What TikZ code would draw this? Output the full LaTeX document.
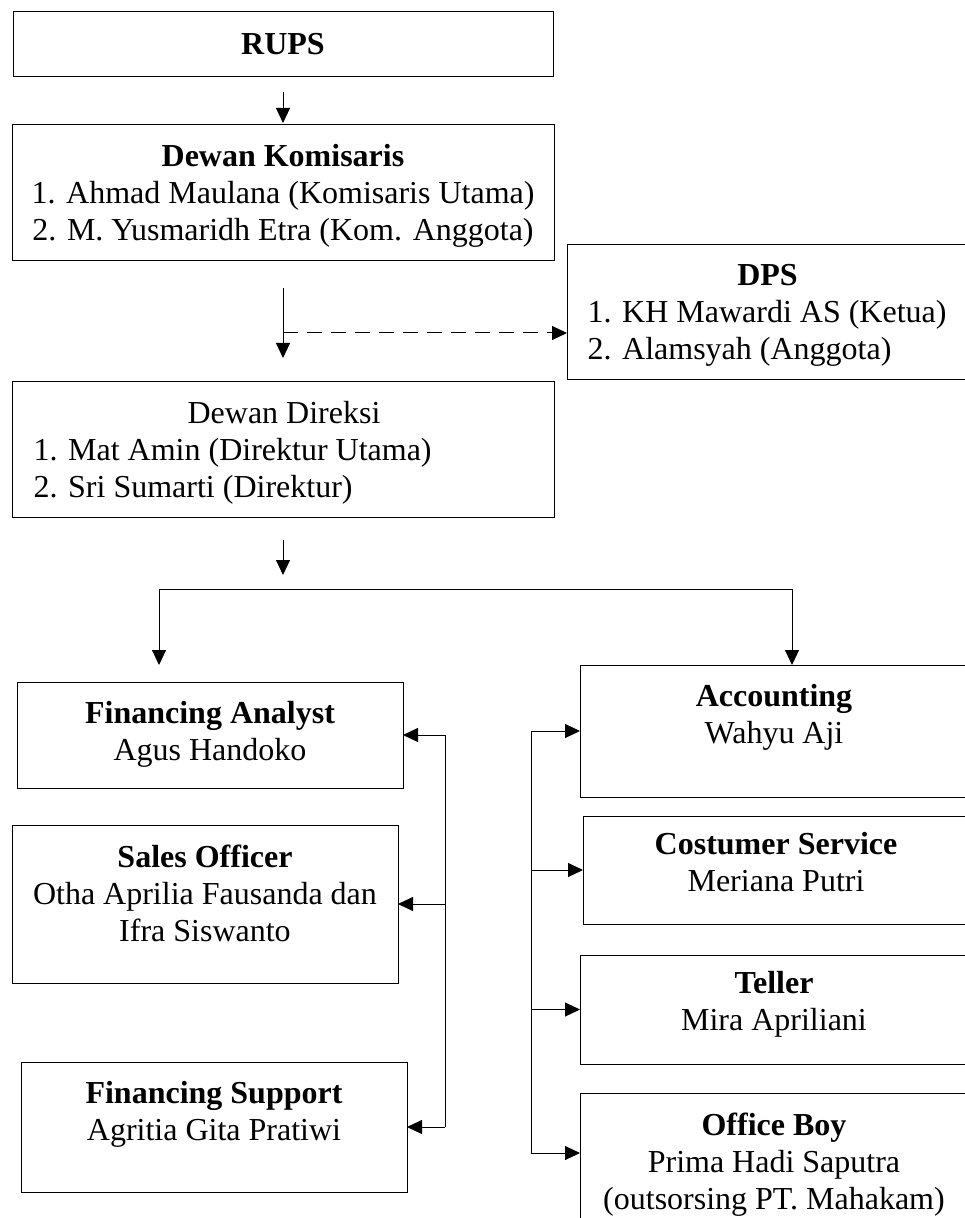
\documentclass[tikz,border=0pt]{standalone}
\usepackage{fontspec}
\setmainfont{Liberation Serif}
\usetikzlibrary{positioning, arrows.meta}

\begin{document}
\begin{tikzpicture}[x=0.5pt, y=-0.5pt, line width=0.5pt,
    unit/.style={draw, anchor=north west, inner sep=0pt, outer sep=0pt},
    lbl/.style={inner sep=0pt, align=center, font=\fontsize{16}{18.5}\selectfont},
    arr/.style={-{Triangle[length=7.5pt, width=7pt]}}]
  \useasboundingbox (0,0) rectangle (964,1218);

  % boxes
  \node (rups) [unit, minimum width=270pt, minimum height=32.5pt] at (13,12) {};
  \node (dk)  [unit, minimum width=271pt, minimum height=68pt]   at (12,125) {};
  \node (dps) [unit, minimum width=200pt, minimum height=67.5pt] at (567,245) {};
  \node (dd)  [unit, minimum width=271pt, minimum height=67.5pt] at (12,382) {};
  \node (fa)  [unit, minimum width=193pt, minimum height=53pt]   at (17,682) {};
  \node (so)  [unit, minimum width=193pt, minimum height=79pt]   at (12,825) {};
  \node (fs)  [unit, minimum width=193pt, minimum height=65pt]   at (21,1062) {};
  \node (acc) [unit, minimum width=194pt, minimum height=66pt]   at (580,665) {};
  \node (cs)  [unit, minimum width=193pt, minimum height=54pt]   at (583,816) {};
  \node (tel) [unit, minimum width=194pt, minimum height=54.5pt] at (580,955) {};
  \node (ob)  [unit, minimum width=194pt, minimum height=80pt]   at (580,1093) {};

  % texts
  \node (rupstxt) [lbl] at (rups.center) {\textbf{RUPS}};
  \node (dktxt) [lbl, below=9.5pt of dk.north]
    {\textbf{Dewan Komisaris}\\1. Ahmad Maulana (Komisaris Utama)\\2. M. Yusmaridh Etra (Kom. Anggota)};
  \node (dpstxt) [lbl, align=left, anchor=north west, below right=9.5pt and 10pt of dps.north west]
    {\makebox[180pt]{\textbf{DPS}}\\1. KH Mawardi AS (Ketua)\\2. Alamsyah (Anggota)};
  \node (ddtxt) [lbl, align=left, anchor=north west, below right=9.5pt and 10.5pt of dd.north west]
    {\makebox[250.5pt]{Dewan Direksi}\\1. Mat Amin (Direktur Utama)\\2. Sri Sumarti (Direktur)};
  \node (fatxt) [lbl, below=9.5pt of fa.north] {\textbf{Financing Analyst}\\Agus Handoko};
  \node (sotxt) [lbl, below=9.5pt of so.north]
    {\textbf{Sales Officer}\\Otha Aprilia Fausanda dan\\Ifra Siswanto};
  \node (fstxt) [lbl, below=9.5pt of fs.north] {\textbf{Financing Support}\\Agritia Gita Pratiwi};
  \node (acctxt) [lbl, below=9.5pt of acc.north] {\textbf{Accounting}\\Wahyu Aji};
  \node (cstxt) [lbl, below=8pt of cs.north] {\textbf{Costumer Service}\\Meriana Putri};
  \node (teltxt) [lbl, below=8pt of tel.north] {\textbf{Teller}\\Mira Apriliani};
  \node (obtxt) [lbl, below=9.5pt of ob.north]
    {\textbf{Office Boy}\\Prima Hadi Saputra\\(outsorsing PT. Mahakam)};

  % connectors
  \coordinate (tap) at (283,333);
  \coordinate (bus) at (283,589);
  \coordinate (busl) at (159,589);
  \coordinate (busr) at (792,589);
  \coordinate (lspine) at (445,0);
  \coordinate (rspine) at (531,0);
  \coordinate (obin) at ([yshift=-30pt]ob.north west);

  \draw[arr, shorten <=7.5pt, shorten >=1pt] (rups) -- (dk);
  \draw[arr, shorten <=13.5pt, shorten >=12pt] (dk) -- (dd);
  \draw[arr, dash pattern=on 7.5pt off 4.5pt] (tap) -- (tap -| dps.west);
  \draw[arr, shorten <=11.5pt, shorten >=7pt] (dd) -- (bus);
  \draw[arr] (busl) -- (busl |- acc.north);
  \draw[arr] (busl) -- (busr) -- (busr |- acc.north);

  \draw (lspine |- fa.east) -- (lspine |- fs.east);
  \foreach \b in {fa, so, fs}
    \draw[arr] (lspine |- \b.east) -- (\b.east);

  \draw (rspine |- acc.west) -- (rspine |- obin);
  \foreach \b in {acc, cs, tel}
    \draw[arr] (rspine |- \b.west) -- (\b.west);
  \draw[arr] (rspine |- obin) -- (obin);
\end{tikzpicture}
\end{document}
